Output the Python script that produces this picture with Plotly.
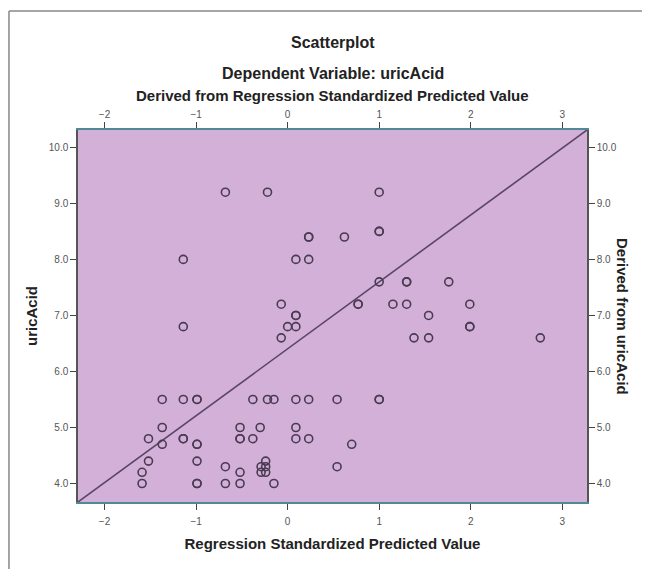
import plotly.graph_objects as go

# Data (x = Regression Standardized Predicted Value, y = uricAcid)
pred = [-0.68, -0.22, 1.00,
        0.23, 0.23, 0.62, 1.00, 1.00,
        -1.14, 0.09, 0.23,
        1.00, 1.30, 1.30, 1.76,
        -0.07, 0.77, 0.77, 1.15, 1.30, 1.99,
        0.09, 0.09, 1.54,
        -1.14, 0.00, 0.09, 1.99, 1.99,
        -0.07, 1.38, 1.54, 2.76,
        -1.37, -1.14, -0.99, -0.99, -0.38, -0.22, -0.15, 0.09, 0.23, 0.54, 1.00, 1.00,
        -1.37, -0.52, -0.30, 0.09,
        -1.52, -1.14, -1.14, -0.52, -0.52, -0.38, 0.09, 0.23,
        -1.37, -0.99, -0.99, 0.70,
        -1.52, -0.99, -0.24,
        -0.68, -0.29, -0.24, 0.54,
        -1.59, -0.52, -0.29, -0.24,
        -1.59, -0.99, -0.99, -0.68, -0.52, -0.15]
uric = [9.2, 9.2, 9.2,
        8.4, 8.4, 8.4, 8.5, 8.5,
        8.0, 8.0, 8.0,
        7.6, 7.6, 7.6, 7.6,
        7.2, 7.2, 7.2, 7.2, 7.2, 7.2,
        7.0, 7.0, 7.0,
        6.8, 6.8, 6.8, 6.8, 6.8,
        6.6, 6.6, 6.6, 6.6,
        5.5, 5.5, 5.5, 5.5, 5.5, 5.5, 5.5, 5.5, 5.5, 5.5, 5.5, 5.5,
        5.0, 5.0, 5.0, 5.0,
        4.8, 4.8, 4.8, 4.8, 4.8, 4.8, 4.8, 4.8,
        4.7, 4.7, 4.7, 4.7,
        4.4, 4.4, 4.4,
        4.3, 4.3, 4.3, 4.3,
        4.2, 4.2, 4.2, 4.2,
        4.0, 4.0, 4.0, 4.0, 4.0, 4.0]

x_ticks = [-2, -1, 0, 1, 2, 3]
y_ticks = [4.0, 5.0, 6.0, 7.0, 8.0, 9.0, 10.0]
x_range = [-2.29, 3.27]
y_range = [3.67, 10.31]

FONT = "Liberation Sans Narrow, Liberation Sans, Arial, sans-serif"
TEAL = "#4f8a98"

fig = go.Figure()

# reference line corner to corner
fig.add_trace(go.Scatter(x=x_range, y=y_range, mode="lines",
                         line=dict(color="#5a4566", width=1.6),
                         hoverinfo="skip", showlegend=False))

fig.add_trace(go.Scatter(x=pred, y=uric, mode="markers",
                         marker=dict(symbol="circle-open", size=8,
                                     color="#4a3a52", line=dict(width=1.6)),
                         showlegend=False))

# invisible trace to activate secondary axes
fig.add_trace(go.Scatter(x=x_range, y=y_range, xaxis="x2", yaxis="y2",
                         mode="markers", marker=dict(opacity=0),
                         hoverinfo="skip", showlegend=False))

tickfont = dict(family="Liberation Sans, Arial, sans-serif", size=10, color="#555555")

fig.update_layout(
    width=642, height=561,
    margin=dict(l=70, r=63, t=122, b=67),
    paper_bgcolor="white",
    plot_bgcolor="#d3b0d8",
    font=dict(family=FONT, color="#222222"),
    xaxis=dict(range=x_range, tickvals=x_ticks, ticks="outside", ticklen=6,
               tickcolor="#444444", showgrid=False, zeroline=False,
               showline=True, linecolor=TEAL, linewidth=2,
               tickfont=tickfont, ticklabelstandoff=3,
               title=dict(text="<b>Regression Standardized Predicted Value</b>",
                          font=dict(family=FONT, size=15, color="#222222"),
                          standoff=12)),
    xaxis2=dict(range=x_range, tickvals=x_ticks, ticks="outside", ticklen=6,
                tickcolor="#444444", overlaying="x", side="top",
                showgrid=False, zeroline=False, showline=True,
                linecolor=TEAL, linewidth=2, tickfont=tickfont),
    yaxis=dict(range=y_range, tickvals=y_ticks, tickformat=".1f",
               ticks="outside", ticklen=6, tickcolor="#444444",
               showgrid=False, zeroline=False, showline=True,
               linecolor="#555555", linewidth=1.5, tickfont=tickfont,
               title=dict(text="<b>uricAcid</b>",
                          font=dict(family=FONT, size=15, color="#222222"),
                          standoff=8)),
    yaxis2=dict(range=y_range, tickvals=y_ticks, tickformat=".1f",
                ticks="outside", ticklen=6, tickcolor="#444444",
                overlaying="y", side="right", showgrid=False,
                zeroline=False, showline=True, linecolor="#555555",
                linewidth=1.5, tickfont=tickfont),
    annotations=[
        dict(text="<b>Scatterplot</b>", xref="paper", yref="paper",
             x=0.5, y=1.0, yshift=88, showarrow=False, xanchor="center",
             yanchor="middle", font=dict(family=FONT, size=16, color="#222222")),
        dict(text="<b>Dependent Variable: uricAcid</b>", xref="paper", yref="paper",
             x=0.5, y=1.0, yshift=57, showarrow=False, xanchor="center",
             yanchor="middle", font=dict(family=FONT, size=16, color="#222222")),
        dict(text="<b>Derived from Regression Standardized Predicted Value</b>",
             xref="paper", yref="paper",
             x=0.5, y=1.0, yshift=35, showarrow=False, xanchor="center",
             yanchor="middle", font=dict(family=FONT, size=15, color="#222222")),
        dict(text="<b>Derived from uricAcid</b>", xref="paper", yref="paper",
             x=1.0, xshift=36, y=0.5, showarrow=False, textangle=90,
             xanchor="center", yanchor="middle",
             font=dict(family=FONT, size=15, color="#222222")),
    ],
    shapes=[
        dict(type="line", xref="paper", yref="paper",
             x0=-0.1356, x1=1.2, y0=1.3199, y1=1.3199,
             line=dict(color="#888888", width=1.5)),
        dict(type="line", xref="paper", yref="paper",
             x0=-0.1356, x1=-0.1356, y0=1.3199, y1=-0.3,
             line=dict(color="#888888", width=1.5)),
    ],
)

fig.write_html("out.html")
